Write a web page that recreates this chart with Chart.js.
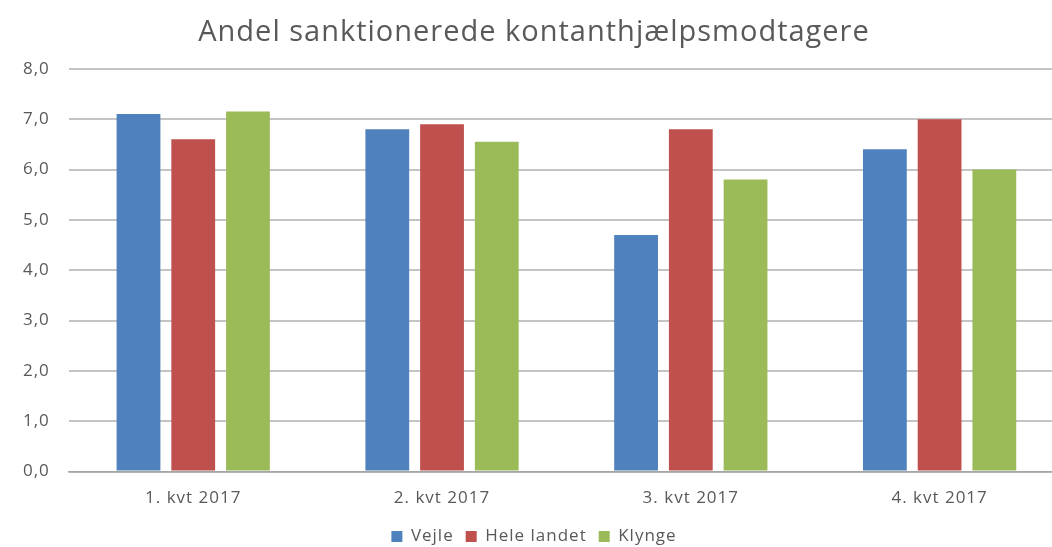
<!DOCTYPE html>
<html>
<head>
<meta charset="utf-8">
<script src="https://cdn.jsdelivr.net/npm/chart.js@4"></script>
<style>
  html, body { margin: 0; padding: 0; background: #fff; overflow: hidden; }
  #wrap { width: 1080px; height: 547px; }
</style>
</head>
<body>
<div id="wrap"><canvas id="barChart" width="1080" height="547"></canvas></div>
<script>
// Data
const categories = ['1. kvt 2017', '2. kvt 2017', '3. kvt 2017', '4. kvt 2017'];
const vejle = [7.1, 6.8, 4.7, 6.4];
const heleLandet = [6.6, 6.9, 6.8, 7.0];
const klynge = [7.15, 6.55, 5.8, 6.0];
const colors = ['#4f81bd', '#c0504d', '#9bbb59'];
const textColor = '#595959';
const fontFamily = 'Open Sans';

// the original text is set a little wide, so add some letter spacing
const spacingPlugin = {
    id: 'spacing',
    beforeUpdate(chart) { chart.ctx.letterSpacing = '1px'; },
    beforeDraw(chart) { chart.ctx.letterSpacing = '1px'; }
};

document.addEventListener('DOMContentLoaded', function() {
    const el = document.getElementById('barChart');
    new Chart(el, {
        type: 'bar',
        data: {
            labels: categories,
            datasets: [
                { label: 'Vejle', data: vejle, backgroundColor: colors[0] },
                { label: 'Hele landet', data: heleLandet, backgroundColor: colors[1] },
                { label: 'Klynge', data: klynge, backgroundColor: colors[2] }
            ]
        },
        options: {
            responsive: false,
            animation: false,
            categoryPercentage: 0.66,
            barPercentage: 0.8,
            layout: { padding: { left: 4, right: 16, top: 11, bottom: -8 } },
            plugins: {
                title: {
                    display: true,
                    text: 'Andel sanktionerede kontanthjælpsmodtagere',
                    color: textColor,
                    font: { family: fontFamily, size: 29, weight: 'normal' },
                    padding: { top: 4, bottom: 19 }
                },
                legend: {
                    position: 'bottom',
                    labels: {
                        color: textColor,
                        boxWidth: 11,
                        boxHeight: 11,
                        padding: 12,
                        font: { family: fontFamily, size: 17 }
                    }
                },
                tooltip: { enabled: false }
            },
            scales: {
                x: {
                    grid: { display: false },
                    border: { color: '#a6a6a6', width: 1.5 },
                    ticks: { color: textColor, font: { family: fontFamily, size: 17 }, padding: 8 }
                },
                y: {
                    min: 0,
                    max: 8,
                    ticks: {
                        stepSize: 1,
                        color: textColor,
                        padding: 19,
                        font: { family: fontFamily, size: 17 },
                        callback: v => v.toFixed(1).replace('.', ',')
                    },
                    grid: { color: '#c4c4c4', lineWidth: 2, drawTicks: false },
                    border: { display: false }
                }
            }
        },
        plugins: [spacingPlugin]
    });
});
</script>
</body>
</html>
